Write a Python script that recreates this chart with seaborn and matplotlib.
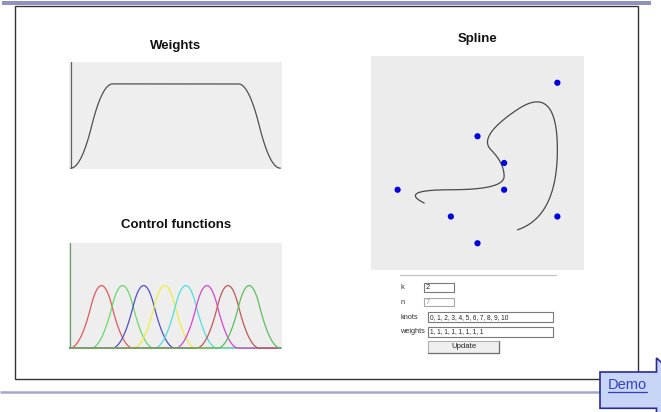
import numpy as np
import matplotlib
matplotlib.use("Agg")
import matplotlib.pyplot as plt
import seaborn as sns
import pandas as pd
from matplotlib.patches import Rectangle, Polygon

# ---------------- data ----------------
k = 2                                   # degree shown in the form
n = 7                                   # number of control points - 1
knots = [0, 1, 2, 3, 4, 5, 6, 7, 8, 9, 10]
weights = [1, 1, 1, 1, 1, 1, 1, 1]
ctrl_x = [3, 1, 5, 5, 4, 7, 7, 4]       # control points (spline panel units)
ctrl_y = [6, 5, 5, 4, 3, 1, 6, 7]
func_colors = ["#e05a5a", "#6ad86a", "#5050c8", "#eeee3c",
               "#50dede", "#d048d0", "#c05858", "#5cbf5c"]
titles = ["Weights", "Control functions", "Spline"]
form_labels = ["k", "n", "knots", "weights"]
form_values = ["2", "7", "0, 1, 2, 3, 4, 5, 6, 7, 8, 9, 10",
               "1, 1, 1, 1, 1, 1, 1, 1"]
button_text = "Update"
link_text = "Demo"

# ---------------- B-spline evaluation from the knots ----------------
kn = np.array(knots, dtype=float)
wt = np.array(weights, dtype=float)


def basis(i, p, t):
    if p == 0:
        return np.where((t >= kn[i]) & (t < kn[i + 1]), 1.0, 0.0)
    out = np.zeros_like(t)
    d1 = kn[i + p] - kn[i]
    d2 = kn[i + p + 1] - kn[i + 1]
    if d1 > 0:
        out += (t - kn[i]) / d1 * basis(i, p - 1, t)
    if d2 > 0:
        out += (kn[i + p + 1] - t) / d2 * basis(i + 1, p - 1, t)
    return out


t_all = np.linspace(kn[0], kn[-1] - 1e-9, 600)
N = np.array([basis(i, k, t_all) for i in range(n + 1)])
wsum = (wt[:, None] * N).sum(axis=0)

t_dom = np.linspace(kn[k], kn[n + 1] - 1e-9, 600)
Nd = np.array([basis(i, k, t_dom) for i in range(n + 1)])
den = (wt[:, None] * Nd).sum(axis=0)
cx = (wt[:, None] * Nd * np.array(ctrl_x, float)[:, None]).sum(axis=0) / den
cy = (wt[:, None] * Nd * np.array(ctrl_y, float)[:, None]).sum(axis=0) / den

df_w = pd.DataFrame({"t": t_all, "w": wsum})
df_f = pd.concat([pd.DataFrame({"t": t_all, "v": N[i], "f": i})
                  for i in range(n + 1)], ignore_index=True)
df_s = pd.DataFrame({"x": cx, "y": cy})
df_p = pd.DataFrame({"x": ctrl_x, "y": ctrl_y})

# ---------------- figure ----------------
sns.set_style("white")
plt.rcParams["font.family"] = ["Liberation Sans", "DejaVu Sans"]

W, H = 661, 412
fig = plt.figure(figsize=(W / 100, H / 100), dpi=100, facecolor="white")


def rect(x0, y0, x1, y1):
    return [x0 / W, 1 - y1 / H, (x1 - x0) / W, (y1 - y0) / H]


bg = fig.add_axes([0, 0, 1, 1])
bg.set_xlim(0, W)
bg.set_ylim(H, 0)
bg.axis("off")

# slide decorations
bg.add_patch(Rectangle((2, 1), 649, 4, facecolor="#8e92bd", edgecolor="none"))
bg.add_patch(Rectangle((15, 6), 623, 373, facecolor="white",
                       edgecolor="#333333", lw=1.0))
bg.plot([0, 600], [391.5, 391.5], color="#a3a6cf", lw=1.8,
        solid_capstyle="butt")

# titles
bg.text(176, 46, titles[0], ha="center", va="center", fontsize=9.5,
        fontweight="bold", color="#111111")
bg.text(176, 225, titles[1], ha="center", va="center", fontsize=9.5,
        fontweight="bold", color="#111111")
bg.text(477.5, 39, titles[2], ha="center", va="center", fontsize=9.5,
        fontweight="bold", color="#111111")

# form
bg.plot([400, 556], [274.5, 274.5], color="#c4c4c4", lw=0.9)
lab_y = [287.5, 302.3, 317.3, 331.5]
for lab, yy in zip(form_labels, lab_y):
    bg.text(400.5, yy, lab, ha="left", va="center", fontsize=5.3,
            color="#333333")
boxes = [(423.5, 282.5, 454, 291.8), (423.5, 297.5, 454, 306.3),
         (427.8, 311.7, 553.3, 322.3), (427.8, 326.7, 553.3, 336.5)]
for j, ((x0, y0, x1, y1), val) in enumerate(zip(boxes, form_values)):
    ec = "#a8a8a8" if j == 1 else "#7a7a7a"
    bg.add_patch(Rectangle((x0, y0), x1 - x0, y1 - y0, facecolor="white",
                           edgecolor=ec, lw=0.8))
    bg.text(x0 + 2.5, (y0 + y1) / 2 + 0.3, val, ha="left", va="center",
            fontsize=4.7 if j >= 2 else 5.3,
            color="#a0a0a0" if j == 1 else "#222222")
bg.add_patch(Rectangle((428.3, 340.8), 70.7, 12, facecolor="#efefef",
                       edgecolor="#b0b0b0", lw=0.8))
bg.plot([428.3, 499, 499], [352.8, 352.8, 340.8], color="#707070", lw=0.9)
bg.text(463.7, 346.9, button_text, ha="center", va="center", fontsize=5.6,
        color="#222222")

# Demo callout
bg.add_patch(Polygon([(600, 372), (656.5, 372), (656.5, 358), (672, 372),
                      (672, 408), (656.5, 422), (656.5, 408.3), (600, 408.3)],
                     closed=True, facecolor="#c9d5f6", edgecolor="#2a2a9a",
                     lw=1.2, zorder=5))
bg.text(627.8, 385, link_text, ha="center", va="center", fontsize=10.5,
        color="#3040c0", zorder=6)
bg.plot([608.3, 647.3], [392.3, 392.3], color="#3040c0", lw=0.9, zorder=6)

# ---------------- panels ----------------
panel_bg = "#eeeeee"

ax1 = fig.add_axes(rect(69, 62, 282, 169))
ax1.set_facecolor(panel_bg)
sns.lineplot(data=df_w, x="t", y="w", ax=ax1, color="#505050", lw=0.9,
             estimator=None, sort=False)
ax1.axvline(kn[0], color="#606060", lw=0.9)
ax1.set_xlim(-0.08, 10.08)
ax1.set_ylim(-0.01, 1.26)

ax2 = fig.add_axes(rect(69, 243, 282, 349))
ax2.set_facecolor(panel_bg)
sns.lineplot(data=df_f, x="t", y="v", hue="f", palette=func_colors, ax=ax2,
             lw=0.9, estimator=None, sort=False, legend=False)
ax2.axvline(kn[0], color="#6a9a6a", lw=0.9)
ax2.set_xlim(-0.04, 10.06)
ax2.set_ylim(-0.01, 1.26)

ax3 = fig.add_axes(rect(371, 56, 584, 270))
ax3.set_facecolor("#ececec")
sns.lineplot(data=df_s, x="x", y="y", ax=ax3, color="#4a4a4a", lw=0.9,
             estimator=None, sort=False)
sns.scatterplot(data=df_p, x="x", y="y", ax=ax3, color="#0000e0", s=20,
                edgecolor="none", zorder=3)
ax3.set_xlim(0, 8)
ax3.set_ylim(8, 0)

for ax in (ax1, ax2, ax3):
    for sp in ax.spines.values():
        sp.set_visible(False)
    ax.set_xticks([])
    ax.set_yticks([])
    ax.set_xlabel("")
    ax.set_ylabel("")

fig.savefig("out.png", dpi=100, facecolor="white")
